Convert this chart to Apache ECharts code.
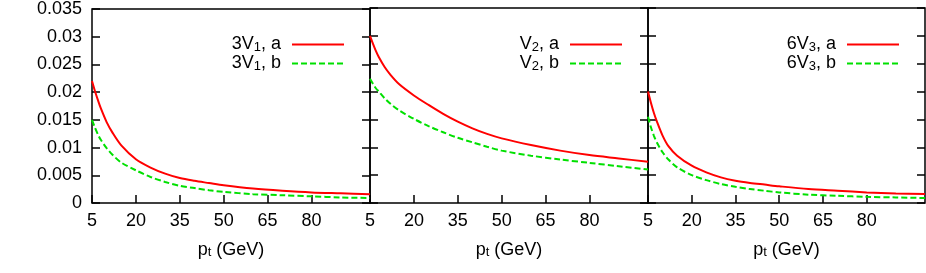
<!DOCTYPE html>
<html>
<head>
<meta charset="utf-8">
<script src="https://cdn.jsdelivr.net/npm/echarts@6/dist/echarts.min.js"></script>
<style>
html,body{margin:0;padding:0;background:#fff;}
#c{width:926px;height:273px;}
</style>
</head>
<body>
<div id="c"></div>
<script>
const pt = [5, 6, 7, 8, 10, 12, 15, 20, 25, 30, 35, 40, 45, 50, 60, 70, 80, 90, 100];
const v1a = [0.0220, 0.0202, 0.0186, 0.0171, 0.0146, 0.0127, 0.0104, 0.0079, 0.0064, 0.0053, 0.0045, 0.0040, 0.0036, 0.0032, 0.0026, 0.0022, 0.0019, 0.00175, 0.0016];
const v1b = [0.0150, 0.0136, 0.0124, 0.0114, 0.0099, 0.0087, 0.0073, 0.0059, 0.0047, 0.0038, 0.0031, 0.0027, 0.0023, 0.0020, 0.0016, 0.0014, 0.0012, 0.0010, 0.0009];
const v2a = [0.0300, 0.0286, 0.0273, 0.0262, 0.0244, 0.0230, 0.0213, 0.0193, 0.0176, 0.0160, 0.0146, 0.0134, 0.0124, 0.0116, 0.0104, 0.0094, 0.0086, 0.0080, 0.0074];
const v2b = [0.0223, 0.0214, 0.0206, 0.0200, 0.0188, 0.0178, 0.0166, 0.0151, 0.0138, 0.0127, 0.0117, 0.0109, 0.0101, 0.0094, 0.0085, 0.0078, 0.0072, 0.0066, 0.0060];
const v3a = [0.0200, 0.0180, 0.0162, 0.0147, 0.0121, 0.0102, 0.0085, 0.0067, 0.0055, 0.0046, 0.0040, 0.0036, 0.0033, 0.0030, 0.0025, 0.0022, 0.0019, 0.0017, 0.0016];
const v3b = [0.0155, 0.0136, 0.0121, 0.0109, 0.0091, 0.0078, 0.0064, 0.0050, 0.0041, 0.0034, 0.0029, 0.0025, 0.0022, 0.0019, 0.0015, 0.0013, 0.0011, 0.0010, 0.0009];
const xTicks = [5, 20, 35, 50, 65, 80];
const panelNames = [['3V{s|1}, a', '3V{s|1}, b'], ['V{s|2}, a', 'V{s|2}, b'], ['6V{s|3}, a', '6V{s|3}, b']];
const seriesNames = [['3V1, a', '3V1, b'], ['V2, a', 'V2, b'], ['6V3, a', '6V3, b']];
const panelData = [[v1a, v1b], [v2a, v2b], [v3a, v3b]];
const xAxisTitle = 'p{s|t} (GeV)';

const FONT = 'Liberation Sans, Arial, sans-serif';
const FS = 18;
const red = '#ff0000', green = '#00e000';
const gridLeft = [92, 370, 648];
const gridW = [278, 278, 277];
const legendRight = [581, 303, 26];

const chart = echarts.init(document.getElementById('c'), null, {renderer: 'canvas'});
const grids = [], xAxes = [], yAxes = [], series = [], legends = [];
for (let p = 0; p < 3; p++) {
  grids.push({left: gridLeft[p], top: 8, width: gridW[p], height: 195, show: true,
    borderColor: '#000', borderWidth: 1.5, backgroundColor: 'transparent'});
  xAxes.push({type: 'value', gridIndex: p, min: 5, max: 100, interval: 15,
    axisLine: {show: false}, splitLine: {show: false},
    axisTick: {show: true, inside: true, length: 8, lineStyle: {color: '#000', width: 1.5}, customValues: xTicks},
    axisLabel: {show: true, color: '#000', fontFamily: FONT, fontSize: FS, margin: 9, customValues: xTicks},
    name: xAxisTitle, nameLocation: 'middle', nameGap: 38,
    nameTextStyle: {color: '#000', fontFamily: FONT, fontSize: FS, rich: {s: {fontSize: 13, verticalAlign: 'bottom', lineHeight: 10, fontFamily: FONT}}}
  });
  for (let side = 0; side < 2; side++) {
    yAxes.push({type: 'value', gridIndex: p, min: 0, max: 0.035, interval: 0.005,
      position: side === 0 ? 'left' : 'right',
      axisLine: {show: false}, splitLine: {show: false},
      axisTick: {show: true, inside: true, length: 8, lineStyle: {color: '#000', width: 1.5}},
      axisLabel: {show: p === 0 && side === 0, color: '#000', fontFamily: FONT, fontSize: FS, margin: 10,
        formatter: v => String(Number(v.toFixed(3)))}
    });
  }
  for (let k = 0; k < 2; k++) {
    series.push({type: 'line', name: seriesNames[p][k], xAxisIndex: p, yAxisIndex: 2 * p,
      data: pt.map((x, i) => [x, panelData[p][k][i]]),
      showSymbol: false, symbol: 'none', smooth: 0.3,
      lineStyle: {color: k === 0 ? red : green, width: 2, type: k === 0 ? 'solid' : [6, 3]},
      itemStyle: {color: k === 0 ? red : green}, silent: true, animation: false});
  }
  legends.push({data: seriesNames[p], orient: 'vertical', align: 'right', right: legendRight[p], top: 35,
    padding: 0, itemWidth: 52, itemHeight: 14, itemGap: 0,
    itemStyle: {opacity: 0, borderWidth: 0},
    formatter: name => panelNames[p][seriesNames[p].indexOf(name)],
    textStyle: {color: '#000', fontFamily: FONT, fontSize: FS, lineHeight: 19, padding: [0, 6, 0, 0],
      rich: {s: {fontSize: 13, verticalAlign: 'bottom', lineHeight: 10, fontFamily: FONT}}},
    selectedMode: false});
}
chart.setOption({backgroundColor: '#fff', animation: false, grid: grids, xAxis: xAxes, yAxis: yAxes, series: series, legend: legends});
</script>
</body>
</html>
